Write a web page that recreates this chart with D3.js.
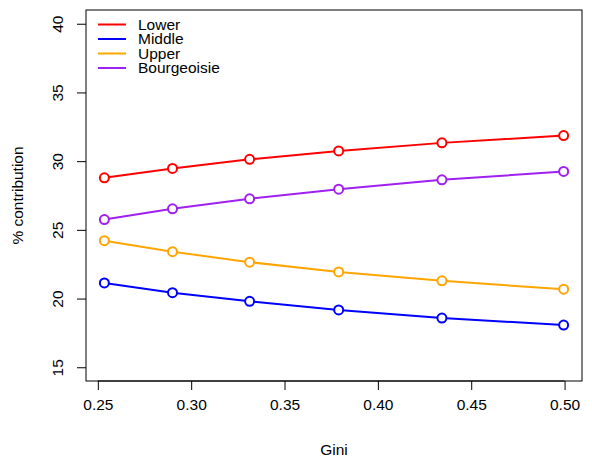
<!DOCTYPE html>
<html>
<head>
<meta charset="utf-8">
<script src="https://cdn.jsdelivr.net/npm/d3@7"></script>
<style>
  body { margin: 0; background: #fff; }
  text { font-family: "Liberation Sans", Arial, sans-serif; }
</style>
</head>
<body>
<svg></svg>
<script>
// data
const gini = [0.2535, 0.290, 0.3313, 0.379, 0.4343, 0.4995];
const lower = [28.79, 29.47, 30.13, 30.74, 31.33, 31.86];
const middle = [21.14, 20.43, 19.80, 19.17, 18.58, 18.07];
const upper = [24.21, 23.41, 22.65, 21.94, 21.29, 20.68];
const bourgeoisie = [25.75, 26.53, 27.26, 27.96, 28.64, 29.25];
const seriesNames = ["Lower", "Middle", "Upper", "Bourgeoisie"];
const seriesColors = ["#ff0000", "#0000ff", "#ffa500", "#a020f0"];
const xTicks = [0.25, 0.30, 0.35, 0.40, 0.45, 0.50];
const yTicks = [15, 20, 25, 30, 35, 40];

const width = 592;
const height = 457;
const box = { left: 86, right: 582, top: 10, bottom: 381 };
const fs = 15.5;

let svg = d3.select("svg").attr("width", width).attr("height", height);

// R style 4% padding on axis ranges
let xMin = d3.min(gini), xMax = d3.max(gini);
let xPad = (xMax - xMin) * 0.04;
let xScale = d3.scaleLinear()
  .domain([xMin - xPad, xMax + xPad])
  .range([box.left, box.right]);

let yScale = d3.scaleLinear()
  .domain([15 - 1, 40 + 1])
  .range([box.bottom, box.top]);

// axes
let xAxis = d3.axisBottom(xScale).tickValues(xTicks).tickFormat(d3.format(".2f")).tickSize(9).tickPadding(9);
let gx = svg.append("g")
  .attr("transform", "translate(0," + box.bottom + ")")
  .call(xAxis);
gx.select(".domain").remove();
gx.append("line")
  .attr("x1", xScale(0.25)).attr("x2", xScale(0.50))
  .attr("stroke", "#000");
gx.selectAll("text").attr("font-size", fs).attr("fill", "#000");

let yAxis = d3.axisLeft(yScale).tickValues(yTicks).tickSize(9);
let gy = svg.append("g")
  .attr("transform", "translate(" + box.left + ",0)")
  .call(yAxis);
gy.select(".domain").remove();
gy.selectAll("text")
  .attr("font-size", fs).attr("fill", "#000")
  .attr("text-anchor", "middle")
  .attr("dy", 0)
  .attr("x", 0).attr("y", 0)
  .attr("transform", "translate(-23,0) rotate(-90)");

// box
svg.append("rect")
  .attr("x", box.left).attr("y", box.top)
  .attr("width", box.right - box.left).attr("height", box.bottom - box.top)
  .attr("fill", "none").attr("stroke", "#000").attr("stroke-width", 1);

// axis titles
svg.append("text")
  .attr("x", (box.left + box.right) / 2).attr("y", 455)
  .attr("text-anchor", "middle").attr("font-size", fs)
  .text("Gini");
svg.append("text")
  .attr("transform", "translate(23," + (box.top + box.bottom) / 2 + ") rotate(-90)")
  .attr("text-anchor", "middle").attr("font-size", fs)
  .text("% contribution");

// series
let allSeries = [lower, middle, upper, bourgeoisie];
let line = d3.line()
  .x((d, i) => xScale(gini[i]))
  .y(d => yScale(d));

allSeries.forEach((vals, k) => {
  let col = seriesColors[k];
  svg.append("path")
    .attr("d", line(vals))
    .attr("fill", "none").attr("stroke", col).attr("stroke-width", 2);
  svg.selectAll(null)
    .data(vals)
    .enter()
    .append("circle")
    .attr("cx", (d, i) => xScale(gini[i]))
    .attr("cy", d => yScale(d))
    .attr("r", 4.5)
    .attr("fill", "#fff").attr("stroke", col).attr("stroke-width", 2);
});

// legend
let legend = svg.append("g");
seriesNames.forEach((name, k) => {
  let y = 24.5 + k * 14.5;
  legend.append("line")
    .attr("x1", 98).attr("x2", 126).attr("y1", y).attr("y2", y)
    .attr("stroke", seriesColors[k]).attr("stroke-width", 2);
  legend.append("text")
    .attr("x", 138).attr("y", y).attr("dy", "0.35em")
    .attr("font-size", fs)
    .text(name);
});
</script>
</body>
</html>
